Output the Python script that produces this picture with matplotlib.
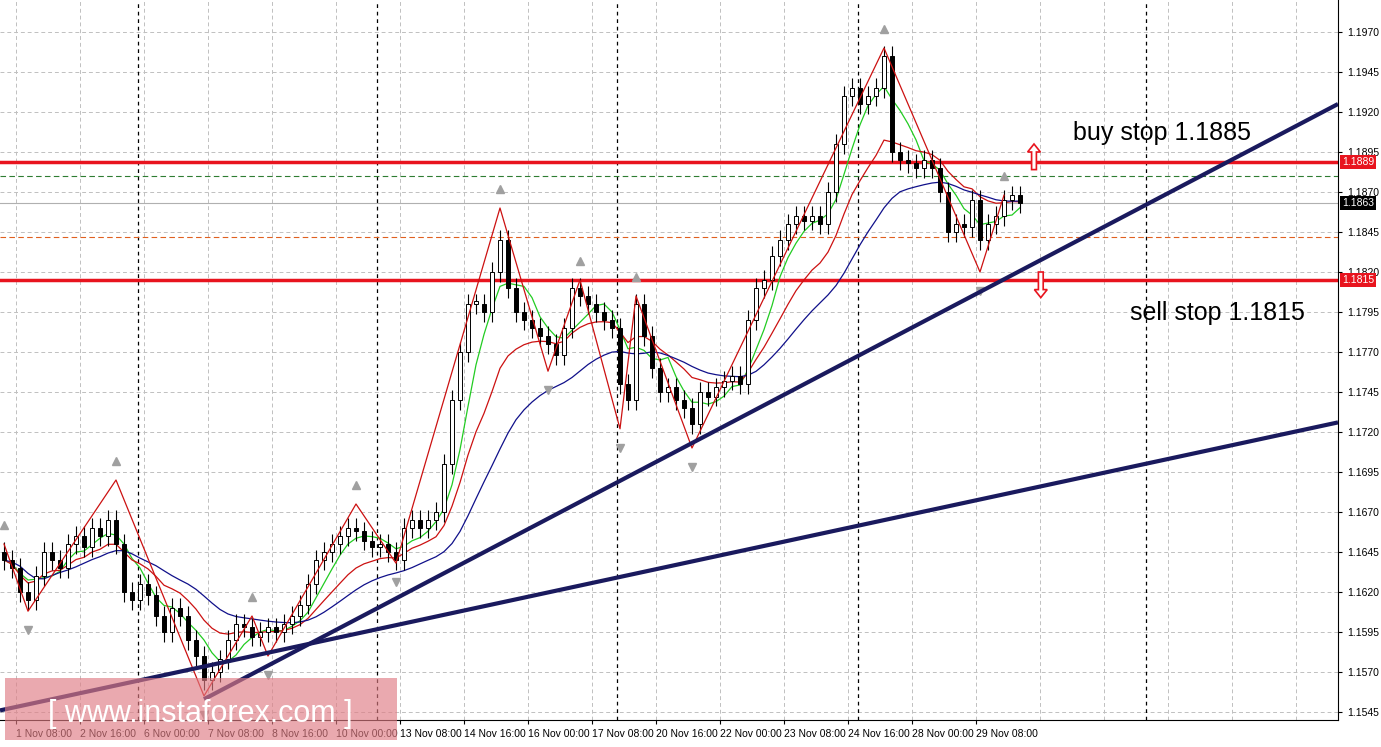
import numpy as np
import pandas as pd
import matplotlib
matplotlib.use('Agg')
import matplotlib.pyplot as plt
from matplotlib.patches import Rectangle, FancyArrow

# H4 closes, one per candle
closes = [1.1640, 1.1635, 1.1620, 1.1615, 1.1630, 1.1645, 1.1640, 1.1635, 1.1650, 1.1655,
          1.1648, 1.1660, 1.1655, 1.1665, 1.1650, 1.1620, 1.1615, 1.1625, 1.1618, 1.1605,
          1.1595, 1.1610, 1.1605, 1.1590, 1.1580, 1.1565, 1.1570, 1.1578, 1.1590, 1.1600,
          1.1598, 1.1592, 1.1595, 1.1598, 1.1595, 1.1600, 1.1605, 1.1612, 1.1625, 1.1640,
          1.1645, 1.1650, 1.1655, 1.1660, 1.1658, 1.1652, 1.1648, 1.1650, 1.1645, 1.1640,
          1.1660, 1.1665, 1.1660, 1.1665, 1.1670, 1.1700, 1.1740, 1.1770, 1.1800, 1.1800,
          1.1795, 1.1820, 1.1840, 1.1810, 1.1795, 1.1790, 1.1785, 1.1780, 1.1775, 1.1768,
          1.1785, 1.1810, 1.1805, 1.1800, 1.1795, 1.1790, 1.1785, 1.1750, 1.1740, 1.1800,
          1.1780, 1.1760, 1.1745, 1.1748, 1.1740, 1.1735, 1.1725, 1.1745, 1.1742, 1.1748,
          1.1752, 1.1755, 1.1750, 1.1790, 1.1810, 1.1815, 1.1830, 1.1840, 1.1850, 1.1855,
          1.1852, 1.1855, 1.1850, 1.1870, 1.1900, 1.1930, 1.1935, 1.1925, 1.1930, 1.1935,
          1.1955, 1.1895, 1.1890, 1.1888, 1.1885, 1.1890, 1.1885, 1.1870, 1.1845, 1.1850,
          1.1848, 1.1865, 1.1840, 1.1850, 1.1855, 1.1865, 1.1868, 1.1863]
first_open = 1.1645

# zigzag pivots (candle index, price)
zz_idx = [0, 3, 14, 25, 31, 33, 44, 49, 62, 68, 72, 77, 79, 86, 110, 122, 125]
zz_px = [1.1650, 1.1608, 1.1690, 1.1555, 1.1605, 1.1580, 1.1675, 1.1638, 1.1860, 1.1758,
         1.1815, 1.1722, 1.1805, 1.1710, 1.1960, 1.1820, 1.1868]

# trend lines (x0, p0, x1, p1)
trend1 = (25.0, 1.1553, 166.75, 1.1925)
trend2 = (-0.5, 1.1546, 166.75, 1.1726)

buy_stop = 1.1889
sell_stop = 1.1815
last_price = 1.1863
green_lvl = 1.1880
orange_lvl = 1.1842

tick_labels = ['1 Nov 08:00', '2 Nov 16:00', '6 Nov 00:00', '7 Nov 08:00', '8 Nov 16:00',
               '10 Nov 00:00', '13 Nov 08:00', '14 Nov 16:00', '16 Nov 00:00', '17 Nov 08:00',
               '20 Nov 16:00', '22 Nov 00:00', '23 Nov 08:00', '24 Nov 16:00', '28 Nov 00:00',
               '29 Nov 08:00']
day_breaks = [16.75, 46.6, 76.6, 106.7, 142.7]

c = np.array(closes)
o = np.concatenate([[first_open], c[:-1]])
hi = np.maximum(o, c) + 0.0006
lo = np.minimum(o, c) - 0.0006
n = len(c)
x = np.arange(n)

fig = plt.figure(figsize=(13.81, 7.47), dpi=100)
ax = fig.add_axes([0, 27 / 747, 1338 / 1381, 720 / 747])
ax.set_xlim(-0.5, 166.75)
ax.set_ylim(1.1540, 1.1990)

yt = np.arange(1.1545, 1.1971, 0.0025)
# grid
for p in yt:
    ax.axhline(p, color='#c0c0c0', ls=(0, (4, 3)), lw=0.7, zorder=0)
tick_pos = [1.5 + 8 * k for k in range(len(tick_labels))]
for t in tick_pos + [1.5 + 8 * k for k in range(16, 21)]:
    ax.axvline(t, color='#c0c0c0', ls=(0, (4, 3)), lw=0.7, zorder=0)
for d in day_breaks:
    ax.axvline(d, color='black', ls=(0, (3, 3)), lw=0.9, zorder=0)

# horizontal levels
ax.axhline(green_lvl, color='#2e7d32', ls=(0, (5, 3)), lw=0.8)
ax.axhline(last_price, color='#b0b0b0', lw=0.8)
ax.axhline(orange_lvl, color='#e06020', ls=(0, (5, 3)), lw=0.8)
ax.axhline(buy_stop, color='#e8141e', lw=2.5)
ax.axhline(sell_stop, color='#e8141e', lw=2.5)

# moving averages
s = pd.Series(c)
ax.plot(x, s.rolling(5, min_periods=1).mean(), color='#22cc22', lw=0.9)
ax.plot(x, s.ewm(span=12).mean(), color='#cc1111', lw=0.9)
ax.plot(x, s.ewm(span=22).mean().rolling(3, min_periods=1).mean(), color='#10108a', lw=0.9)

# candles
for i in range(n):
    ax.vlines(i, lo[i], hi[i], color='black', lw=0.8)
    bull = c[i] >= o[i]
    h = max(abs(c[i] - o[i]), 0.0002)
    ax.add_patch(Rectangle((i - 0.3, min(o[i], c[i])), 0.6, h,
                           facecolor='white' if bull else 'black', edgecolor='black', lw=0.7, zorder=3))

# zigzag and fractal arrows
ax.plot(zz_idx, zz_px, color='#cc1111', lw=0.9, zorder=4)
for k, (i, p) in enumerate(zip(zz_idx, zz_px)):
    up = (k < len(zz_idx) - 1 and zz_px[k + 1] < p) or (k > 0 and zz_px[k - 1] < p)
    if up:
        ax.plot(i, p + 0.0012, marker='^', color='#a0a0a0', ms=6, zorder=4)
    else:
        ax.plot(i, p - 0.0012, marker='v', color='#a0a0a0', ms=6, zorder=4)

# trend lines
for t in (trend1, trend2):
    ax.plot([t[0], t[2]], [t[1], t[3]], color='#1a1a5e', lw=3, zorder=5, solid_capstyle='butt')

# stop arrows
ax.add_patch(FancyArrow(128.75, buy_stop - 0.0005, 0, 0.0011, width=0.6, head_width=1.6,
                        head_length=0.0005, facecolor='white', edgecolor='#e8141e', lw=1.2, zorder=6))
ax.add_patch(FancyArrow(129.6, sell_stop + 0.0005, 0, -0.0011, width=0.6, head_width=1.6,
                        head_length=0.0005, facecolor='white', edgecolor='#e8141e', lw=1.2, zorder=6))

fig.text(1073 / 1381, 1 - 133 / 747, 'buy stop 1.1885', fontsize=18, va='center', family='Liberation Sans')
fig.text(1130 / 1381, 1 - 313 / 747, 'sell stop 1.1815', fontsize=18, va='center', family='Liberation Sans')

# axes
ax.yaxis.tick_right()
ax.set_yticks(yt)
ax.set_yticklabels(['%.4f' % p for p in yt], fontsize=7.5, family='Liberation Sans')
ax.set_xticks(tick_pos)
ax.set_xticklabels(tick_labels, fontsize=7.5, ha='left', family='Liberation Sans')
ax.tick_params(length=3)
for sp in ['top', 'left']:
    ax.spines[sp].set_visible(False)

for p, fc in [(buy_stop, '#e8141e'), (sell_stop, '#e8141e'), (last_price, 'black')]:
    ax.text(1.003, p, '%.4f' % p, transform=ax.get_yaxis_transform(), fontsize=7.5, color='white',
            va='center', ha='left', family='Liberation Sans',
            bbox=dict(boxstyle='square,pad=0.2', fc=fc, ec='none'), zorder=7)

# watermark
fig.patches.append(Rectangle((5 / 1381, 7 / 747), 392 / 1381, 62 / 747, transform=fig.transFigure,
                             facecolor='#e07c84', alpha=0.65, edgecolor='none', zorder=10))
fig.text(200 / 1381, 33 / 747, '[ www.instaforex.com ]', color='white', fontsize=22, ha='center',
         va='center', zorder=11, family='Liberation Sans')

fig.savefig('out.png', dpi=100)
